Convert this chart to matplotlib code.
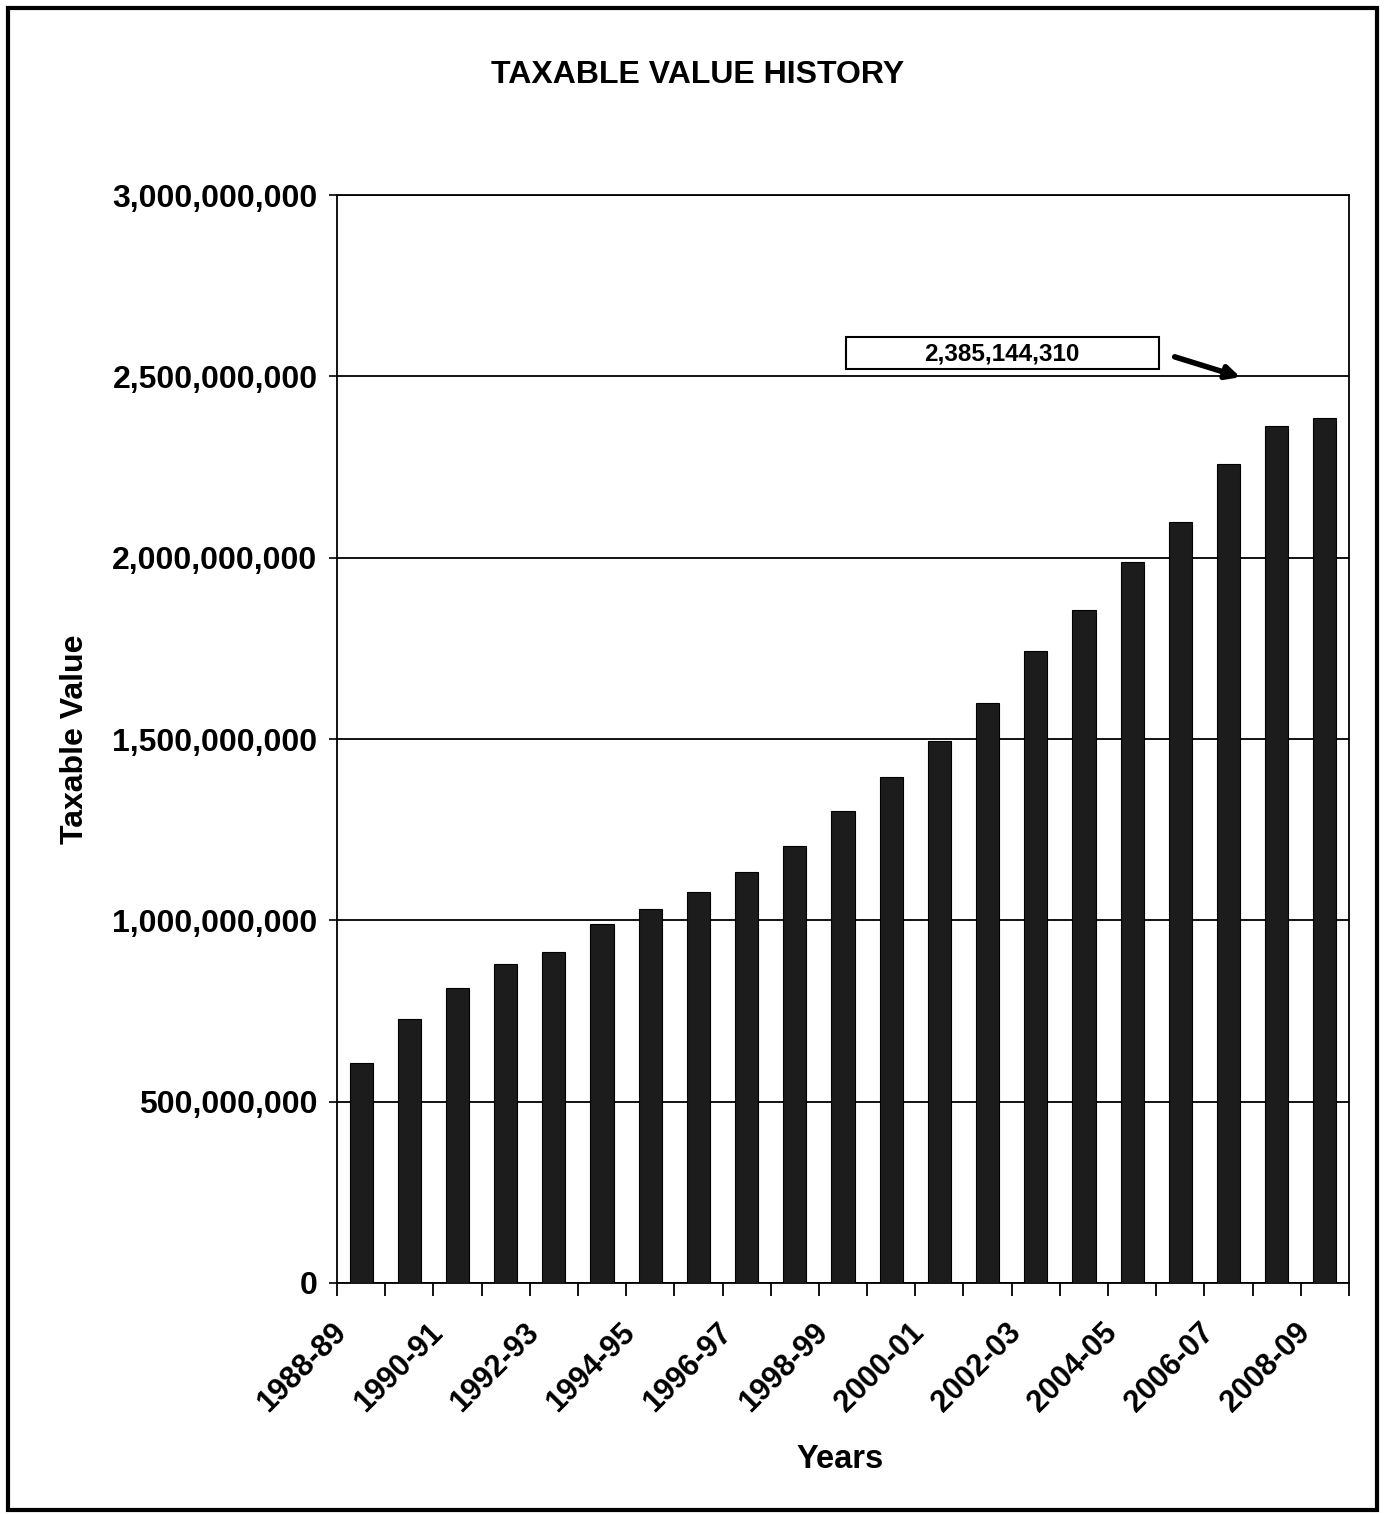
import matplotlib
matplotlib.use("Agg")
import matplotlib.pyplot as plt
from matplotlib.patches import Rectangle
from matplotlib.ticker import FuncFormatter
from matplotlib.transforms import ScaledTranslation
import numpy as np

years = ["1988-89", "1989-90", "1990-91", "1991-92", "1992-93", "1993-94", "1994-95",
         "1995-96", "1996-97", "1997-98", "1998-99", "1999-00", "2000-01", "2001-02",
         "2002-03", "2003-04", "2004-05", "2005-06", "2006-07", "2007-08", "2008-09"]
values = [606e6, 728e6, 813e6, 880e6, 913e6, 990e6, 1031e6, 1078e6, 1133e6, 1205e6,
          1301e6, 1395e6, 1494e6, 1599e6, 1742e6, 1856e6, 1988e6, 2098e6, 2258e6,
          2363e6, 2385144310]
yticks = [0, 500e6, 1000e6, 1500e6, 2000e6, 2500e6, 3000e6]
annot_text = "2,385,144,310"

plt.rcParams['font.family'] = ['Liberation Sans', 'DejaVu Sans']
plt.rcParams['font.weight'] = 'bold'

fig = plt.figure(figsize=(13.89, 15.14), dpi=100)
W, H = 1389, 1514
ax = fig.add_axes([337 / W, 1 - 1283 / H, (1349 - 337) / W, (1283 - 195) / H])

x = np.arange(len(years))
ax.bar(x, values, width=0.48, color="#1c1c1c", edgecolor="#000000", linewidth=0.8, zorder=3)

ax.set_xlim(-0.5, len(years) - 0.5)
ax.set_ylim(0, 3e9)
ax.set_yticks(yticks)
ax.yaxis.set_major_formatter(FuncFormatter(lambda v, p: f"{int(v):,}"))
ax.tick_params(axis='y', labelsize=23, length=6, width=1.2, direction='out', pad=8)
ax.grid(axis='y', color='black', linewidth=1.3, zorder=1)

# x ticks: labels every other category, tick marks at boundaries
ax.set_xticks(x[::2])
ax.set_xticklabels(years[::2], rotation=45, ha='right', rotation_mode='anchor', fontsize=22)
ax.tick_params(axis='x', which='major', length=0, pad=25)
ax.set_xticks(np.arange(-0.5, len(years), 1.0), minor=True)
ax.tick_params(axis='x', which='minor', length=9, width=1.3, direction='out')
shift = ScaledTranslation(-30 / 100, 0, fig.dpi_scale_trans)
for lab in ax.get_xticklabels():
    lab.set_transform(lab.get_transform() + shift)

for s in ax.spines.values():
    s.set_linewidth(1.3)
    s.set_color('black')

ax.set_ylabel("Taxable Value", fontsize=23, fontweight='bold', labelpad=16)
fig.text(840 / W, 1 - 1460 / H, "Years", fontsize=23.5, fontweight='bold', ha='center', va='center')
fig.text(698 / W, 1 - 75 / H, "TAXABLE VALUE HISTORY", fontsize=23, fontweight='bold',
         ha='center', va='center')

# Annotation box and arrow
fig.patches.append(Rectangle((846 / W, 1 - 369 / H), (1159 - 846) / W, (369 - 337) / H,
                             transform=fig.transFigure, fill=False, edgecolor='black', lw=1.5))
fig.text(1002 / W, 1 - 354 / H, annot_text, fontsize=17.5, fontweight='bold', ha='center', va='center')
ax.annotate("", xy=(1243 / W, 1 - 378 / H), xytext=(1172 / W, 1 - 356 / H),
            xycoords='figure fraction', textcoords='figure fraction',
            arrowprops=dict(arrowstyle='-|>,head_length=0.8,head_width=0.4', color='black', lw=4))

# outer border
fig.patches.append(Rectangle((8 / W, 1 - 1510 / H), (1377 - 8) / W, (1510 - 8) / H,
                             transform=fig.transFigure, fill=False, edgecolor='black', lw=3))

fig.savefig("out.png", dpi=100, facecolor='white')
